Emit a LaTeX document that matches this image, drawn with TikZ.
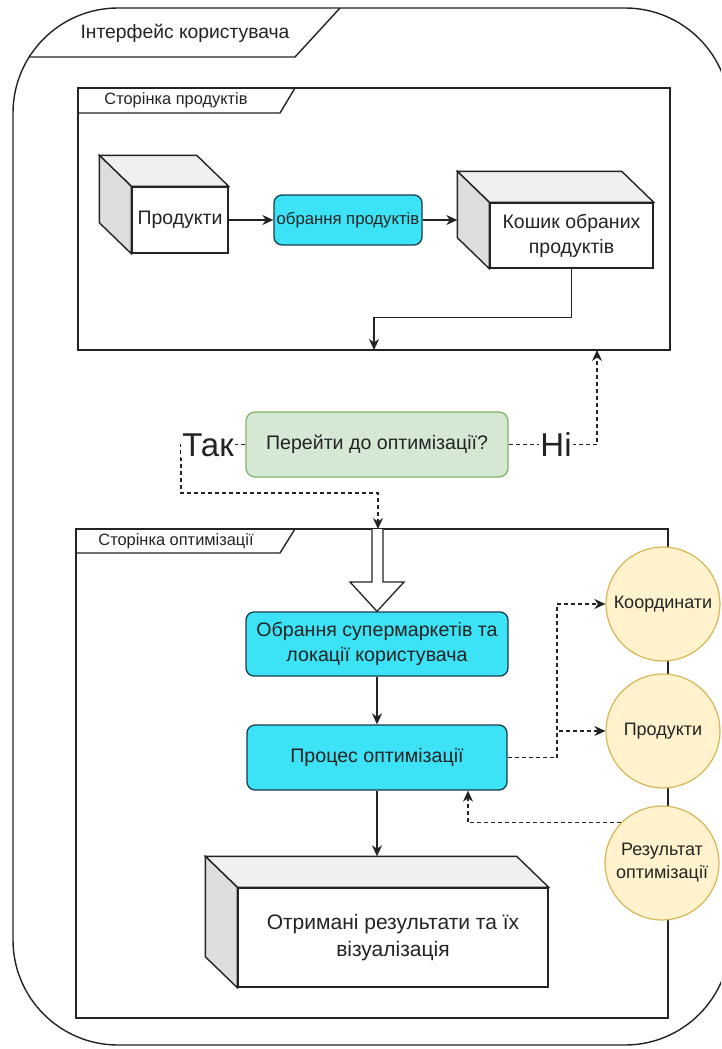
\documentclass[tikz,border=0pt]{standalone}
\usepackage{fontspec}
\setmainfont{Liberation Sans}
\usetikzlibrary{arrows.meta,calc}
\definecolor{cyanbox}{RGB}{60,226,245}
\definecolor{cyanline}{RGB}{25,60,75}
\definecolor{grfill}{HTML}{D5E8D4}
\definecolor{grline}{HTML}{82B366}
\definecolor{yfill}{HTML}{FFF2CC}
\definecolor{yline}{HTML}{D6B656}
\definecolor{ink}{RGB}{35,35,35}
\definecolor{topface}{RGB}{240,240,240}
\definecolor{sideface}{RGB}{222,222,222}
\newcommand\cubesides[1]{%
  \draw[cubeline, fill=topface] (#1.north west) -- ++(-32,-31) -- ([shift={(-32,-31)}]#1.north east) -- (#1.north east) -- cycle;
  \draw[cubeline, fill=sideface] (#1.north west) -- ++(-32,-31) -- ([shift={(-32,-31)}]#1.south west) -- (#1.south west) -- cycle;
}
\tikzset{
  frame/.style={draw=ink, line width=1.4pt},
  cubeline/.style={draw=ink, line width=1.4pt},
  cubefront/.style={draw=ink, line width=1.4pt, fill=white, inner sep=0pt, text=ink, align=center, font=\fontsize{19.5}{25}\selectfont},
  cyanrect/.style={draw=cyanline, line width=1.3pt, fill=cyanbox, rounded corners=8pt, inner sep=0pt, text=ink, align=center},
  greenrect/.style={draw=grline, line width=1.3pt, fill=grfill, rounded corners=9pt, inner sep=0pt, text=ink, align=center, font=\fontsize{19.6}{25}\selectfont},
  ycirc/.style={circle, draw=yline, line width=1.2pt, fill=yfill, minimum size=114pt, inner sep=0pt, text=ink, align=center, font=\fontsize{18}{23}\selectfont},
  arr/.style={draw=ink, line width=1.4pt, -{Stealth[length=11pt,width=10pt,inset=3.5pt]}},
  darr/.style={arr, dash pattern=on 4pt off 3pt},
  lbl/.style={fill=white, inner sep=1pt, text=ink, font=\fontsize{33}{36}\selectfont},
  tabtext/.style={text=ink, font=\fontsize{16.4}{20}\selectfont},
}
\begin{document}
\begin{tikzpicture}[x=1pt, y=-1pt]
\useasboundingbox (0,0) rectangle (721,1049);
\clip (0,0) rectangle (721,1049);
% outer frame
\node[frame, rounded corners=105pt, minimum width=717pt, minimum height=1037pt, inner sep=0pt] (outer) at (371.5,526.5) {};
\draw[frame] (29,57) -- (295,57) -- (340,8);
\node[text=ink, font=\fontsize{19.3}{22}\selectfont] (title) at (185,33) {Інтерфейс користувача};
% page 1
\node[frame, minimum width=592pt, minimum height=262pt, inner sep=0pt] (p1) at (374,219) {};
\draw[frame] (78,113) -- (280,113) -- (295,88);
\node[tabtext] (p1title) at (176,100) {Сторінка продуктів};
\node[cubefront, minimum width=96pt, minimum height=66pt] (prod) at (180,220) {Продукти};
\cubesides{prod}
\node[cyanrect, minimum width=148pt, minimum height=50pt, font=\fontsize{16.7}{20}\selectfont] (obr1) at (348,220) {обрання продуктів};
\node[cubefront, minimum width=163pt, minimum height=65pt] (kosh) at (571.5,235.5) {Кошик обраних\\продуктів};
\cubesides{kosh}
\coordinate (koshback) at ([shift={(-32,-31)}]kosh.north west);
\coordinate (kin) at (374,350);
\draw[arr] (prod.east) -- (obr1.west);
\draw[arr] (obr1.east) -- (obr1.east -| koshback);
\draw[arr] (kosh.south) -- ++(0,49) -| (kin);
% decision
\node[greenrect, minimum width=262pt, minimum height=65pt] (dec) at (377,444.5) {Перейти до оптимізації?};
\coordinate (yesin) at (378,529);
\coordinate (noin) at (597,350);
\draw[darr] (dec.west) -| (181,493) -| (yesin);
\draw[darr] (dec.east) -| (noin);
\node[lbl] (tak) at (208,445) {Так};
\node[lbl] (ni) at (556,445) {Ні};
% page 2
\node[frame, minimum width=592pt, minimum height=489pt, inner sep=0pt] (p2) at (372,773.5) {};
\draw[frame] (76,553) -- (280,553) -- (295,529);
\node[tabtext] (p2title) at (176,541) {Сторінка оптимізації};
\node[cyanrect, minimum width=262pt, minimum height=64pt, font=\fontsize{19.6}{25}\selectfont] (obr2) at (377,644) {Обрання супермаркетів та\\локації користувача};
\draw[frame, line width=1.3pt, fill=white] (372,529) -- (372,582) -- (350,582) -- (obr2.north) -- (404,582) -- (383,582) -- (383,529);
\node[cyanrect, minimum width=260pt, minimum height=65pt, font=\fontsize{19.6}{25}\selectfont] (proc) at (377,757.5) {Процес оптимізації};
\node[cubefront, minimum width=310pt, minimum height=99pt, font=\fontsize{21}{27}\selectfont] (resc) at (393,937.5) {Отримані результати та їх\\візуалізація};
\cubesides{resc}
\coordinate (rescback) at ([shift={(-32,-31)}]resc.north east);
\draw[arr] (obr2.south) -- (proc.north);
\draw[arr] (proc.south) -- (proc.south |- rescback);
% circles
\node[ycirc] (koord) at (663,604) {Координати};
\node[ycirc] (prodc) at (663,731) {Продукти};
\node[ycirc] (resopt) at (662,863) {Результат\\оптимізації};
\draw[darr] (proc.east) -- (557,757.5) |- (koord.west);
\draw[darr] (557,757.5) |- (prodc.west);
\draw[darr] (resopt.135) -| ([xshift=91pt]proc.south);
\end{tikzpicture}
\end{document}
